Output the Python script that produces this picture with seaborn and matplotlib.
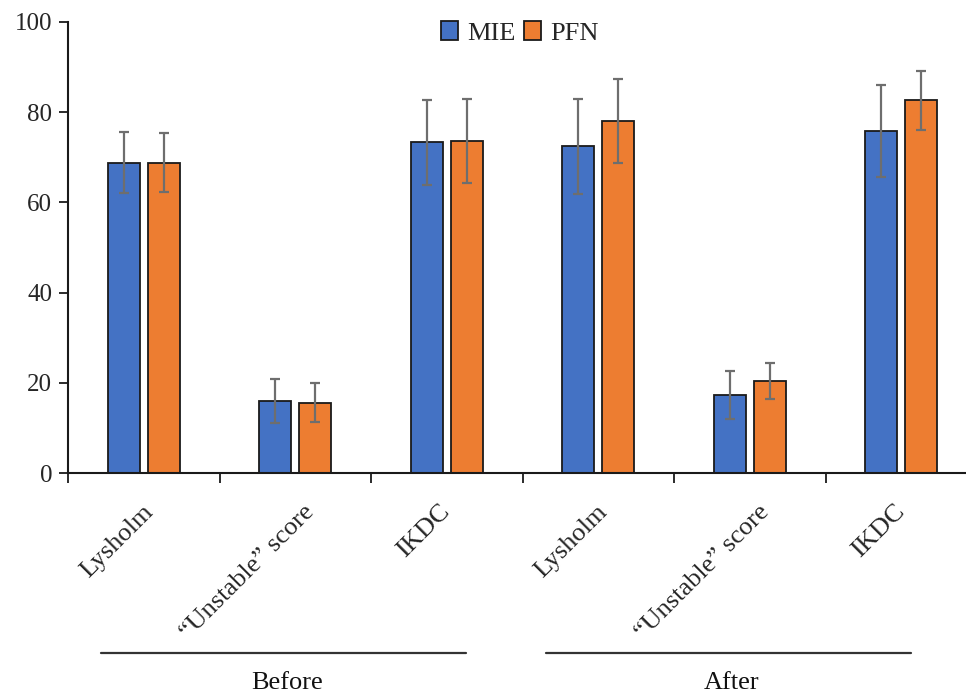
import numpy as np
import pandas as pd
import matplotlib
matplotlib.use("Agg")
import matplotlib.pyplot as plt
import matplotlib.transforms as mtransforms
import seaborn as sns

# ---- data ----
phases = ["Before", "After"]
measures = ["Lysholm", "\u201cUnstable\u201d score", "IKDC"]
groups = ["MIE", "PFN"]
mie_mean = [68.8, 15.9, 73.3, 72.4, 17.3, 75.9]
mie_sd = [6.8, 4.9, 9.4, 10.6, 5.3, 10.2]
pfn_mean = [68.8, 15.6, 73.7, 78.1, 20.4, 82.6]
pfn_sd = [6.5, 4.4, 9.3, 9.3, 4.0, 6.6]
y_ticks = [0, 20, 40, 60, 80, 100]
# bracket line extents under each phase (category units)
phase_spans = [(-0.28, 2.13), (2.655, 5.064)]
# small horizontal nudge (pixels) of each rotated label, per measure
label_dx = [-2, 8, -8]

keys = [f"{p}|{m}" for p in phases for m in measures]
tick_labels = [m for p in phases for m in measures]

df = pd.DataFrame({
    "key": keys * 2,
    "group": [groups[0]] * len(keys) + [groups[1]] * len(keys),
    "value": mie_mean + pfn_mean,
})
sds = {groups[0]: mie_sd, groups[1]: pfn_sd}

# ---- style ----
sns.set_theme(style="ticks")
plt.rcParams["font.family"] = ["Liberation Serif", "DejaVu Serif"]
plt.rcParams["font.size"] = 17.5

colors = ["#4472C4", "#ED7D31"]

fig = plt.figure(figsize=(9.66, 6.95), dpi=100)
ax = fig.add_axes([68 / 966, (695 - 473) / 695, 909 / 966, 451 / 695])

sns.barplot(data=df, x="key", y="value", hue="group", order=keys,
            hue_order=groups, palette=colors, width=0.53, gap=0.2,
            errorbar=None, edgecolor="#1a1a1a", linewidth=1.3,
            saturation=1, ax=ax)

# error bars from bar positions
for cont, g in zip(ax.containers, groups):
    xs = [b.get_x() + b.get_width() / 2 for b in cont]
    hs = [b.get_height() for b in cont]
    ax.errorbar(xs, hs, yerr=sds[g], fmt="none", ecolor="#6e6e6e",
                elinewidth=1.6, capsize=3.4, capthick=1.6, zorder=5)

ax.set_ylim(0, 100)
ax.set_xlim(-0.5, len(keys) - 0.5)
ax.set_yticks(y_ticks)
ax.set_yticklabels([str(v) for v in y_ticks])
ax.set_xlabel("")
ax.set_ylabel("")

# major ticks at category boundaries, labels at centers (minor)
n = len(keys)
ax.set_xticks(np.arange(-0.5, n, 1.0))
ax.set_xticklabels([""] * (n + 1))
ax.set_xticks(np.arange(n), minor=True)
ax.set_xticklabels(tick_labels, minor=True, rotation=45, ha="right",
                   va="top", rotation_mode="anchor", fontsize=19)
ax.tick_params(axis="x", which="major", direction="out", length=7,
               width=1.3, color="#1a1a1a")
ax.tick_params(axis="x", which="minor", length=0, pad=20)
ax.tick_params(axis="y", direction="out", length=6.5, width=1.3,
               color="#1a1a1a", pad=5, labelsize=18)

for i, lab in enumerate(ax.get_xticklabels(minor=True)):
    dx = label_dx[i % len(measures)]
    off = mtransforms.ScaledTranslation(dx / 100, 0, fig.dpi_scale_trans)
    lab.set_transform(lab.get_transform() + off)

for s in ["top", "right"]:
    ax.spines[s].set_visible(False)
for s in ["left", "bottom"]:
    ax.spines[s].set_linewidth(1.5)
    ax.spines[s].set_color("#1a1a1a")

# legend
leg = ax.get_legend()
handles = leg.legend_handles
labels = [t.get_text() for t in leg.get_texts()]
leg.remove()
for h, c in zip(handles, colors):
    h.set_facecolor(c)
    h.set_edgecolor("#1a1a1a")
    h.set_linewidth(1.3)
ax.legend(handles, labels, loc="center", bbox_to_anchor=(0.497, 0.976),
          ncol=2, frameon=False, handlelength=0.65, handleheight=0.75,
          handletextpad=0.33, columnspacing=0.33, fontsize=19,
          borderaxespad=0)

# group lines and labels
trans = mtransforms.blended_transform_factory(ax.transData, ax.transAxes)
for p, (x0, x1) in zip(phases, phase_spans):
    ax.plot([x0, x1], [-0.399, -0.399], transform=trans, color="#333333",
            lw=1.6, clip_on=False)
    ax.text((x0 + x1) / 2 + 0.02, -0.466, p, transform=trans, ha="center",
            va="center", fontsize=19, color="#111111")

fig.savefig("out.png", dpi=100)
